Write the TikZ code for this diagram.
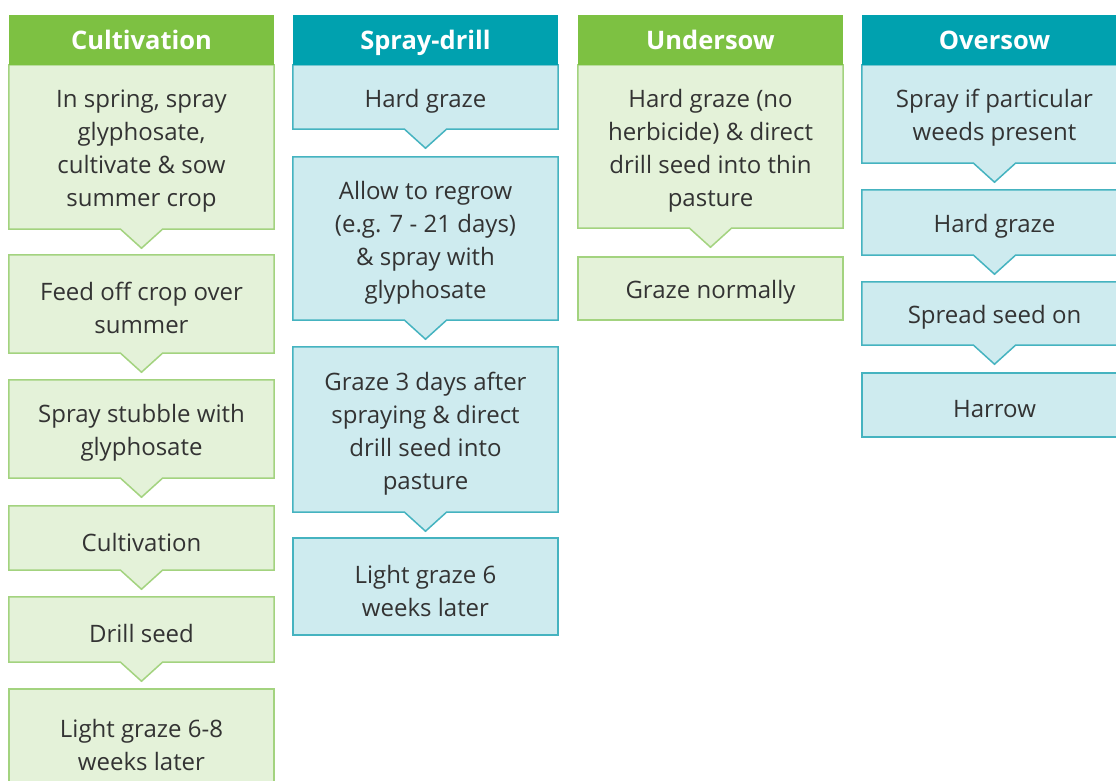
\documentclass[tikz,border=0pt]{standalone}
\usepackage{fontspec}
\setmainfont{Open Sans}
\usetikzlibrary{backgrounds}
\definecolor{gHead}{HTML}{7DC142}
\definecolor{gFill}{HTML}{E4F2D9}
\definecolor{gLine}{HTML}{A3D37F}
\definecolor{tHead}{HTML}{00A1AF}
\definecolor{tFill}{HTML}{CEEBEF}
\definecolor{tLine}{HTML}{45B3C0}
\definecolor{txt}{HTML}{333333}
\tikzset{
  stepbox/.style={rectangle, minimum width=265pt, inner sep=0pt, align=center, text=txt,
    font=\fontsize{24}{33}\selectfont},
  headbox/.style={rectangle, minimum width=265pt, minimum height=50pt, inner sep=0pt,
    text height=19.5pt, text depth=0.5pt,
    text=white, font=\fontsize{25.5}{28}\selectfont\bfseries},
  greenhead/.style={headbox, fill=gHead},
  tealhead/.style={headbox, fill=tHead},
  greenout/.style={fill=gFill, draw=gLine, line width=1.5pt, line join=miter},
  tealout/.style={fill=tFill, draw=tLine, line width=1.5pt, line join=miter}
}
% outlines drawn 4pt above the text node, so the text sits slightly low as in the reference
\newcommand\notchout[2]{\draw[#2] ([yshift=4pt]#1.north west) -- ([yshift=4pt]#1.north east)
  -- ([yshift=4pt]#1.south east) -- ([xshift=21pt,yshift=4pt]#1.south)
  -- ([yshift=-15pt]#1.south) -- ([xshift=-21pt,yshift=4pt]#1.south)
  -- ([yshift=4pt]#1.south west) -- cycle;}
\newcommand\plainout[2]{\draw[#2] ([yshift=4pt]#1.north west) rectangle ([yshift=4pt]#1.south east);}
\begin{document}
\begin{tikzpicture}[x=1pt,y=-1pt]
\useasboundingbox (0,0) rectangle (1116,781);
% Cultivation
\node[greenhead] (hc) at (141.5,40) {Cultivation};
\node[stepbox, minimum height=164pt] (c1) at (141.5,151) {In spring, spray\\glyphosate,\\cultivate \& sow\\summer crop};
\node[stepbox, minimum height=98pt] (c2) at (141.5,308) {Feed off crop over\\summer};
\node[stepbox, minimum height=98pt] (c3) at (141.5,433) {Spray stubble with\\glyphosate};
\node[stepbox, minimum height=64pt] (c4) at (141.5,542) {Cultivation};
\node[stepbox, minimum height=65pt] (c5) at (141.5,633.5) {Drill seed};
\node[stepbox, minimum height=103pt] (c6) at (141.5,744.5) {Light graze 6-8\\weeks later};
% Spray-drill
\node[tealhead] (hs) at (425.5,40) {Spray-drill};
\node[stepbox, minimum height=64pt] (s1) at (425.5,101) {Hard graze};
\node[stepbox, minimum height=163pt] (s2) at (425.5,242.5) {Allow to regrow\\(e.g. 7 - 21 days)\\\& spray with\\glyphosate};
\node[stepbox, minimum height=165pt] (s3) at (425.5,433.5) {Graze 3 days after\\spraying \& direct\\drill seed into\\pasture};
\node[stepbox, minimum height=97pt] (s4) at (425.5,590.5) {Light graze 6\\weeks later};
% Undersow
\node[greenhead] (hu) at (710.5,40) {Undersow};
\node[stepbox, minimum height=163pt] (u1) at (710.5,150.5) {Hard graze (no\\herbicide) \& direct\\drill seed into thin\\pasture};
\node[stepbox, minimum height=63pt] (u2) at (710.5,292.5) {Graze normally};
% Oversow
\node[tealhead] (ho) at (994.5,40) {Oversow};
\node[stepbox, minimum height=98pt] (o1) at (994.5,118) {Spray if particular\\weeds present};
\node[stepbox, minimum height=65pt] (o2) at (994.5,226.5) {Hard graze};
\node[stepbox, minimum height=63pt] (o3) at (994.5,317.5) {Spread seed on};
\node[stepbox, minimum height=64pt] (o4) at (994.5,409) {Harrow};
\begin{scope}[on background layer]
\fill[white] (0,0) rectangle (1116,781);
\notchout{c1}{greenout}\notchout{c2}{greenout}\notchout{c3}{greenout}
\notchout{c4}{greenout}\notchout{c5}{greenout}\plainout{c6}{greenout}
\notchout{s1}{tealout}\notchout{s2}{tealout}\notchout{s3}{tealout}\plainout{s4}{tealout}
\notchout{u1}{greenout}\plainout{u2}{greenout}
\notchout{o1}{tealout}\notchout{o2}{tealout}\notchout{o3}{tealout}\plainout{o4}{tealout}
\end{scope}
\end{tikzpicture}
\end{document}
